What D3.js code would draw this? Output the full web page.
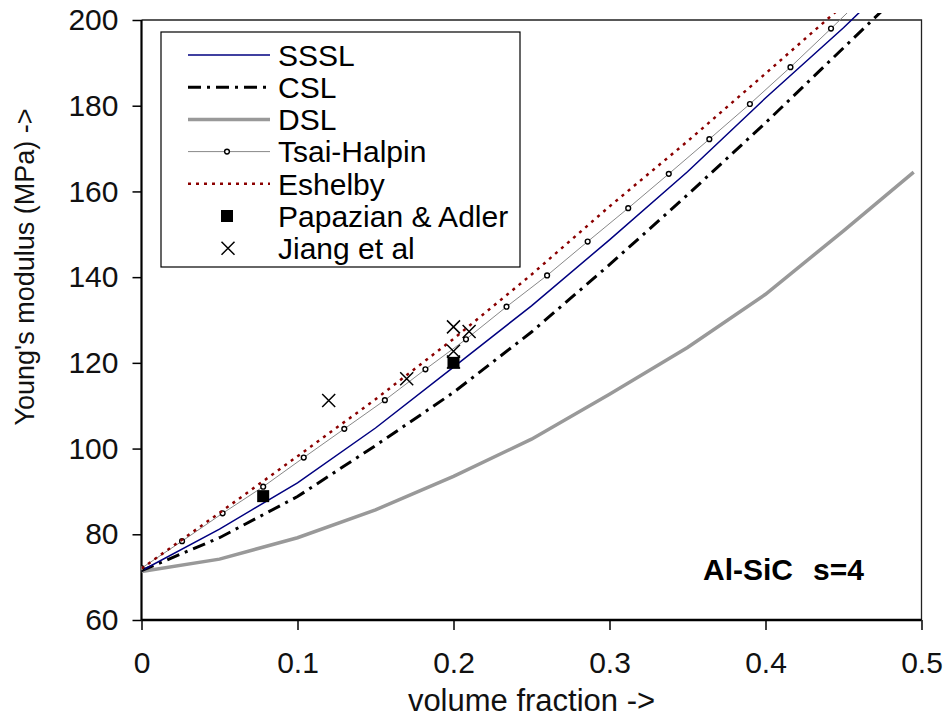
<!DOCTYPE html>
<html>
<head>
<meta charset="utf-8">
<script src="https://cdn.jsdelivr.net/npm/d3@7"></script>
<style>
  body { margin: 0; background: #fff; }
  svg { font-family: "Liberation Sans", Arial, sans-serif; }
</style>
</head>
<body>
<svg id="chart"></svg>
<script>
// data
const ssslX = [0, 0.05, 0.1, 0.15, 0.2, 0.25, 0.3, 0.35, 0.4, 0.45, 0.47]
const ssslY = [71.5, 81.2, 92.0, 104.8, 119.0, 133.3, 148.7, 164.6, 181.8, 198.2, 205.2]

const cslX = [0, 0.05, 0.1, 0.15, 0.2, 0.25, 0.3, 0.35, 0.4, 0.45, 0.48]
const cslY = [71.5, 79.2, 88.8, 100.7, 113.1, 127.2, 142.9, 159.2, 176.0, 193.5, 204.0]

const dslX = [0, 0.05, 0.1, 0.15, 0.2, 0.25, 0.3, 0.35, 0.4, 0.45, 0.495]
const dslY = [71.3, 74.2, 79.2, 85.7, 93.5, 102.2, 112.7, 123.6, 136.0, 150.8, 164.5]

const tsaiX = [0, 0.026, 0.052, 0.078, 0.104, 0.13, 0.156, 0.182, 0.208, 0.234,
               0.26, 0.286, 0.312, 0.338, 0.364, 0.39, 0.416, 0.442, 0.468]
const tsaiY = [72.1, 78.4, 84.9, 91.1, 97.9, 104.6, 111.3, 118.5, 125.5, 133.1,
               140.4, 148.3, 156.1, 164.1, 172.2, 180.4, 189.0, 198.0, 207.2]

const eshX = [0, 0.05, 0.1, 0.15, 0.2, 0.25, 0.3, 0.35, 0.4, 0.45]
const eshY = [72.0, 85.0, 98.2, 111.5, 125.6, 140.6, 156.5, 171.7, 187.5, 203.5]

const papX = [0.078, 0.2]
const papY = [88.9, 120.0]

const jiangX = [0.12, 0.17, 0.2, 0.21, 0.2, 0.2]
const jiangY = [111.2, 116.3, 128.4, 127.3, 122.7, 120.2]

const xTicks = [0, 0.1, 0.2, 0.3, 0.4, 0.5]
const yTicks = [60, 80, 100, 120, 140, 160, 180, 200]

const legendNames = ["SSSL", "CSL", "DSL", "Tsai-Halpin", "Eshelby", "Papazian & Adler", "Jiang et al"]

// layout
const width = 951, height = 720
const plot = { left: 141.5, right: 921.5, top: 20, bottom: 620 }

const svg = d3.select("#chart").attr("width", width).attr("height", height)

const x = d3.scaleLinear().domain([0, 0.5]).range([plot.left, plot.right])
const y = d3.scaleLinear().domain([60, 200]).range([plot.bottom, plot.top])

const zip = (xs, ys) => xs.map((v, i) => [v, ys[i]])
const line = d3.line().x(d => x(d[0])).y(d => y(d[1]))

// lines may run a few px over the top frame, like the original
svg.append("defs").append("clipPath").attr("id", "clip")
  .append("rect")
  .attr("x", plot.left).attr("y", plot.top - 7)
  .attr("width", plot.right - plot.left + 2).attr("height", plot.bottom - plot.top + 7)

// frame top + right (thin)
svg.append("path")
  .attr("d", `M${plot.left},${plot.top}H${plot.right}V${plot.bottom}`)
  .attr("fill", "none").attr("stroke", "#222").attr("stroke-width", 1.3)

// axes
const yAxis = svg.append("g")
  .attr("transform", `translate(${plot.left},0)`)
  .call(d3.axisLeft(y).tickValues(yTicks).tickSize(9).tickPadding(14).tickFormat(d3.format("d")))
const xAxis = svg.append("g")
  .attr("transform", `translate(0,${plot.bottom})`)
  .call(d3.axisBottom(x).tickValues(xTicks).tickSize(10).tickPadding(22)
    .tickFormat(d => d === 0 ? "0" : d3.format(".1f")(d)))

yAxis.select(".domain").attr("d", `M0,${plot.top}V${plot.bottom}`).attr("stroke-width", 2.2)
xAxis.select(".domain").attr("d", `M${plot.left},0H${plot.right}`).attr("stroke-width", 2.5)
svg.selectAll(".tick line").attr("stroke-width", 1.5)
yAxis.selectAll(".tick text").attr("font-size", 30).attr("fill", "#111")
xAxis.selectAll(".tick text").attr("font-size", 30).attr("fill", "#111")
svg.selectAll(".domain, .tick line").attr("stroke", "#000")

// axis titles
svg.append("text")
  .attr("x", (plot.left + plot.right) / 2).attr("y", 711)
  .attr("text-anchor", "middle").attr("font-size", 31).attr("fill", "#111")
  .text("volume fraction ->")
svg.append("text")
  .attr("transform", `translate(34,267) rotate(-90)`)
  .attr("text-anchor", "middle").attr("font-size", 27).attr("fill", "#111")
  .text("Young's modulus (MPa) ->")

// series
const g = svg.append("g").attr("clip-path", "url(#clip)")

g.append("path").datum(zip(dslX, dslY)).attr("d", line)
  .attr("fill", "none").attr("stroke", "#999").attr("stroke-width", 3.5)
g.append("path").datum(zip(cslX, cslY)).attr("d", line)
  .attr("fill", "none").attr("stroke", "#000").attr("stroke-width", 3)
  .attr("stroke-dasharray", "13,6,3,6")
g.append("path").datum(zip(ssslX, ssslY)).attr("d", line)
  .attr("fill", "none").attr("stroke", "#000080").attr("stroke-width", 1.5)
g.append("path").datum(zip(tsaiX, tsaiY)).attr("d", line)
  .attr("fill", "none").attr("stroke", "#888").attr("stroke-width", 1)
g.selectAll(".tsai").data(zip(tsaiX, tsaiY)).enter().append("circle")
  .attr("class", "tsai")
  .attr("cx", d => x(d[0])).attr("cy", d => y(d[1])).attr("r", 2.4)
  .attr("fill", "#fff").attr("stroke", "#000").attr("stroke-width", 1.4)
g.append("path").datum(zip(eshX, eshY)).attr("d", line)
  .attr("fill", "none").attr("stroke", "#8b0000").attr("stroke-width", 2.5)
  .attr("stroke-dasharray", "3,5")

const cross = s => `M${-s},${-s}L${s},${s}M${-s},${s}L${s},${-s}`
g.selectAll(".jiang").data(zip(jiangX, jiangY)).enter().append("path")
  .attr("class", "jiang")
  .attr("transform", d => `translate(${x(d[0])},${y(d[1])})`)
  .attr("d", cross(6.5)).attr("stroke", "#000").attr("stroke-width", 1.5).attr("fill", "none")
g.selectAll(".pap").data(zip(papX, papY)).enter().append("rect")
  .attr("class", "pap")
  .attr("x", d => x(d[0]) - 6).attr("y", d => y(d[1]) - 6)
  .attr("width", 12).attr("height", 12).attr("fill", "#000")

// annotation
const note = svg.append("text")
  .attr("y", 580)
  .attr("font-size", 30).attr("font-weight", "bold").attr("fill", "#000")
note.append("tspan").attr("x", 703).text("Al-SiC  ")
note.append("tspan").attr("x", 813).text("s=4")

// legend
const lg = svg.append("g")
lg.append("rect")
  .attr("x", 161).attr("y", 32).attr("width", 359).attr("height", 235)
  .attr("fill", "#fff").attr("stroke", "#000").attr("stroke-width", 1.2)

const rowY = i => 55 + i * 32.2
const lx1 = 188, lx2 = 270, lmid = 229
const styles = [
  { stroke: "#000080", w: 1.5 },
  { stroke: "#000", w: 3, dash: "13,6,3,6" },
  { stroke: "#999", w: 3.5 },
  { stroke: "#888", w: 1 },
  { stroke: "#8b0000", w: 2.5, dash: "3,5" }
]
styles.forEach((s, i) => {
  lg.append("line")
    .attr("x1", lx1).attr("x2", lx2).attr("y1", rowY(i)).attr("y2", rowY(i))
    .attr("stroke", s.stroke).attr("stroke-width", s.w)
    .attr("stroke-dasharray", s.dash || null)
})
lg.append("circle").attr("cx", lmid - 2).attr("cy", rowY(3)).attr("r", 2.4)
  .attr("fill", "#fff").attr("stroke", "#000").attr("stroke-width", 1.4)
lg.append("rect").attr("x", lmid - 2 - 6).attr("y", rowY(5) - 6)
  .attr("width", 12).attr("height", 12).attr("fill", "#000")
lg.append("path").attr("transform", `translate(${lmid - 1},${rowY(6)})`)
  .attr("d", cross(6.5)).attr("stroke", "#000").attr("stroke-width", 1.5)

lg.selectAll(".ltext").data(legendNames).enter().append("text")
  .attr("class", "ltext")
  .attr("x", 278).attr("y", (d, i) => rowY(i)).attr("dy", "0.36em")
  .attr("font-size", 30).attr("fill", "#000")
  .text(d => d)
</script>
</body>
</html>
